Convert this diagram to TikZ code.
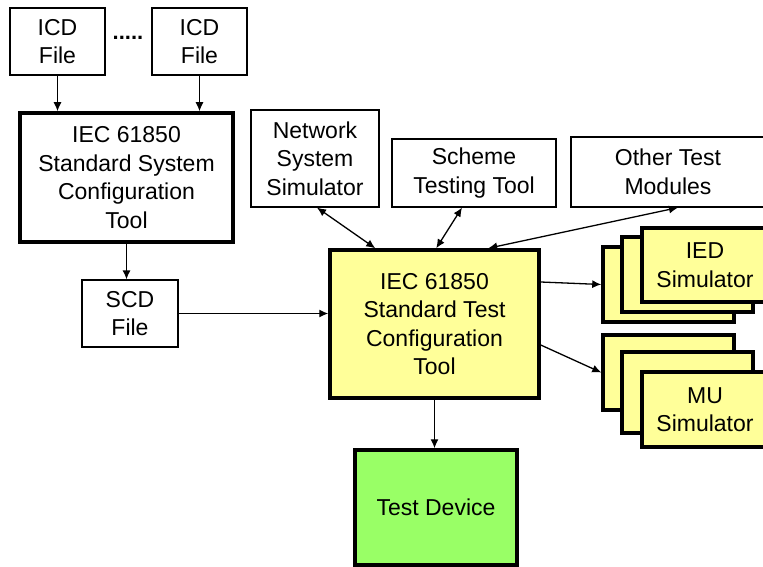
\documentclass[tikz,border=0pt]{standalone}
\usepackage{fontspec}
\setmainfont{Liberation Sans}
\usetikzlibrary{arrows.meta}
\definecolor{toolyellow}{HTML}{FFFF99}
\definecolor{devgreen}{HTML}{99FF66}
\tikzset{
  box/.style={draw, line width=1.2pt, fill=white, align=center, inner sep=0pt,
    font=\fontsize{23}{28.5}\selectfont},
  thickbox/.style={box, line width=3.5pt},
  simbox/.style={thickbox, fill=toolyellow},
  arr/.style={-{Latex[length=9pt,width=8pt]}, line width=1.3pt},
  darr/.style={{Latex[length=9pt,width=8pt]}-{Latex[length=9pt,width=8pt]}, line width=1.3pt}
}
\begin{document}
\begin{tikzpicture}[x=1pt,y=-1pt]
\useasboundingbox (0,0) rectangle (763,567);
\clip (0,0) rectangle (763,567);
% system configuration side
\node[box, minimum width=95, minimum height=67] (icda) at (57.5,41.5) {ICD\\File};
\node[box, minimum width=95, minimum height=67] (icdb) at (199.5,41.5) {ICD\\File};
\node[font=\fontsize{22}{22}\selectfont\bfseries] (dots) at (128,38) {.....};
\node[thickbox, minimum width=213, minimum height=129] (ssct) at (126.5,177.5) {IEC 61850\\Standard System\\Configuration\\Tool};
\node[box, minimum width=96, minimum height=67] (scd) at (130,313.5) {SCD\\File};
% test modules
\node[box, minimum width=128, minimum height=97] (nss) at (315,158.5) {Network\\System\\Simulator};
\node[box, minimum width=164, minimum height=68] (stt) at (474,173) {Scheme\\Testing Tool};
\node[box, minimum width=194, minimum height=70] (otm) at (668,172) {Other Test\\Modules};
\node[simbox, minimum width=209, minimum height=148] (tct) at (434.5,324) {IEC 61850\\Standard Test\\Configuration\\Tool};
% simulator stacks
\node[simbox, minimum width=131, minimum height=75] (ied3) at (668.5,284.5) {};
\node[simbox, minimum width=131, minimum height=75] (ied2) at (687.5,274.5) {};
\node[simbox, minimum width=126, minimum height=74] (ied1) at (705,265) {IED\\Simulator};
\node[simbox, minimum width=131, minimum height=75] (mu3) at (668.5,372.5) {};
\node[simbox, minimum width=131, minimum height=81] (mu2) at (687.5,392.5) {};
\node[simbox, minimum width=126, minimum height=75] (mu1) at (705,409.5) {MU\\Simulator};
\node[thickbox, fill=devgreen, minimum width=162, minimum height=115] (tdev) at (436,507.5) {Test Device};
% connectors
\draw[arr] (icda.south) -- (icda.south |- ssct.north);
\draw[arr] (icdb.south) -- (icdb.south |- ssct.north);
\draw[arr] (ssct.south) -- (ssct.south |- scd.north);
\draw[arr] (scd.east) -- (scd.east -| tct.west);
\draw[darr] ([xshift=2pt]nss.south) -- ([xshift=47pt]tct.north west);
\draw[darr] ([xshift=-12pt]stt.south) -- ([xshift=108pt]tct.north west);
\draw[darr] ([xshift=10pt]otm.south) -- ([xshift=160pt]tct.north west);
\draw[arr] ([yshift=42pt]tct.east) -- (ied3.west);
\draw[arr] ([yshift=-21pt]tct.east) -- (mu3.west);
\draw[arr] (tct.south) -- (tct.south |- tdev.north);
\end{tikzpicture}
\end{document}
